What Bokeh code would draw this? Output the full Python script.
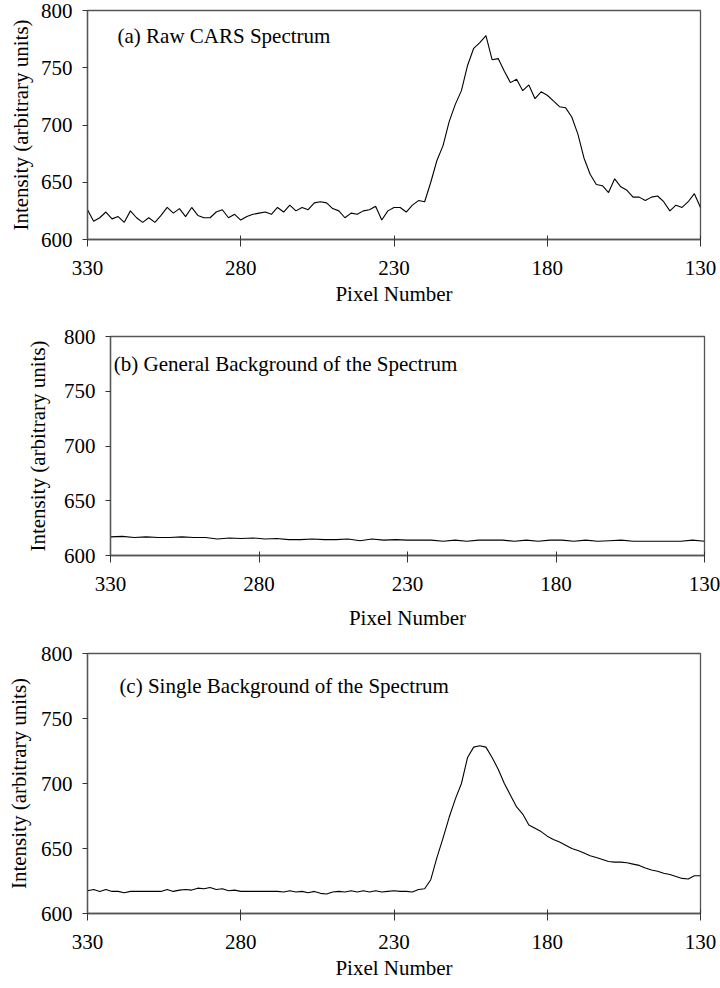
from bokeh.plotting import figure
from bokeh.layouts import column, row
from bokeh.models import Range1d, FixedTicker, Label, ColumnDataSource, Spacer
from bokeh.embed import file_html
from bokeh.resources import INLINE

# ---------------- data ----------------
x_ticks = [330, 280, 230, 180, 130]
y_ticks = [600, 650, 700, 750, 800]

pixel_a = list(range(330, 129, -2))
raw_cars = [
    626, 616, 619, 624, 618, 620, 615, 625, 619, 615,
    619, 615, 621, 628, 623, 627, 620, 628, 621, 619,
    619, 624, 626, 619, 622, 617, 620, 622, 623, 624,
    622, 628, 624, 630, 625, 628, 626, 632, 633, 632,
    627, 625, 619, 623, 622, 625, 626, 629, 617, 625,
    628, 628, 624, 630, 634, 633, 650, 669, 682, 703,
    718, 730, 752, 767, 772, 778, 757, 758, 747, 737,
    740, 730, 735, 723, 729, 726, 721, 716, 715, 707,
    692, 671, 657, 648, 647, 641, 653, 646, 643, 637,
    637, 634, 637, 638, 633, 625, 630, 628, 633, 640,
    628,
]

pixel_b = list(range(330, 129, -4))
general_bg = [
    617, 617.5, 616.5, 617, 616.5, 616.5, 617, 616.5, 616.5, 615,
    616, 615.5, 616, 615, 615.5, 614.5, 614.5, 615, 614.5, 614.5,
    615, 613.5, 615, 614, 614.5, 614, 614, 614, 613, 614,
    613, 614, 614, 614, 613, 614, 613, 614, 614, 613,
    614, 613, 613.5, 614, 613, 613, 613, 613, 613, 614,
    613,
]

pixel_c = list(range(330, 129, -2))
single_bg = [
    617.5, 618.5, 617, 618.5, 617, 617, 616, 617, 617, 617,
    617, 617, 617, 618.5, 617, 618, 618.5, 618, 619.5, 619,
    620, 618.5, 619, 617.5, 618, 617, 617, 617, 617, 617,
    617, 617, 616.5, 617.5, 616.5, 617, 616, 617, 615.5, 615,
    616.5, 617, 616.5, 617.5, 616.5, 617.5, 616.5, 617.5, 616.5, 617,
    617.5, 617, 617, 616.5, 618.5, 619, 626, 643, 658, 674,
    688, 700, 720, 728, 729, 728, 720, 711, 700, 691,
    682, 676.5, 668, 665.5, 663, 659.5, 657, 655, 652.5, 650,
    648.5, 646.5, 644.5, 643, 641.5, 640, 639.5, 639.5, 639, 638,
    637, 635, 633.5, 632.5, 631, 630, 628.5, 627, 626.5, 629,
    629,
]

assert len(pixel_a) == len(raw_cars)
assert len(pixel_b) == len(general_bg)
assert len(pixel_c) == len(single_bg)

titles = ["(a) Raw CARS Spectrum",
          "(b) General Background of the Spectrum",
          "(c) Single Background of the Spectrum"]

FONT = "Liberation Serif"
FS = "21px"
FRAME = "#555555"


def make_panel(xs, ys, title, width, height, borders, label_pos, x_lab_standoff, y_lab_standoff):
    top, right, bottom, left = borders
    p = figure(width=width, height=height, output_backend="svg", toolbar_location=None,
               x_range=Range1d(330, 130), y_range=Range1d(600, 800),
               min_border_top=top, min_border_right=right,
               min_border_bottom=bottom, min_border_left=left,
               background_fill_color="white", border_fill_color="white")
    p.grid.visible = False
    p.outline_line_color = FRAME
    p.outline_line_width = 1.3

    p.xaxis.ticker = FixedTicker(ticks=x_ticks)
    p.yaxis.ticker = FixedTicker(ticks=y_ticks)
    p.xaxis.minor_tick_line_color = None
    p.yaxis.minor_tick_line_color = None
    for ax in (p.xaxis[0], p.yaxis[0]):
        ax.axis_line_color = FRAME
        ax.axis_line_width = 1.3
        ax.major_tick_line_color = "#333333"
        ax.major_label_text_font = FONT
        ax.major_label_text_font_size = FS
        ax.major_label_text_color = "black"
        ax.axis_label_text_font = FONT
        ax.axis_label_text_font_size = FS
        ax.axis_label_text_font_style = "normal"
        ax.axis_label_text_color = "black"
    p.xaxis.major_tick_in = 4
    p.xaxis.major_tick_out = 7
    p.xaxis.major_label_standoff = 14
    p.xaxis.axis_label = "Pixel Number"
    p.xaxis.axis_label_standoff = x_lab_standoff
    p.yaxis.major_tick_in = 0
    p.yaxis.major_tick_out = 5
    p.yaxis.major_label_standoff = 10
    p.yaxis.axis_label = "Intensity (arbitrary units)"
    p.yaxis.axis_label_standoff = y_lab_standoff

    src = ColumnDataSource(dict(x=xs, y=ys))
    p.line("x", "y", source=src, line_color="black", line_width=1.1)

    lx, ly = label_pos
    p.add_layout(Label(x=lx, y=ly, text=title, text_font=FONT, text_font_size=FS,
                       text_color="black", text_baseline="alphabetic", text_align="left"))
    return p


pa = make_panel(pixel_a, raw_cars, titles[0], 720, 320, (10, 20, 81, 85), (320.2, 778), 4, 5)
pb = make_panel(pixel_b, general_bg, titles[1], 698, 320, (16, 16, 85, 87), (328.9, 775), 12, 11)
pc = make_panel(pixel_c, single_bg, titles[2], 720, 348, (13, 18, 75, 87), (319.6, 775), 4, 7)

layout = column(pa, row(Spacer(width=22, height=320), pb), pc, spacing=0)
open("out.html", "w").write(file_html(layout, INLINE))
